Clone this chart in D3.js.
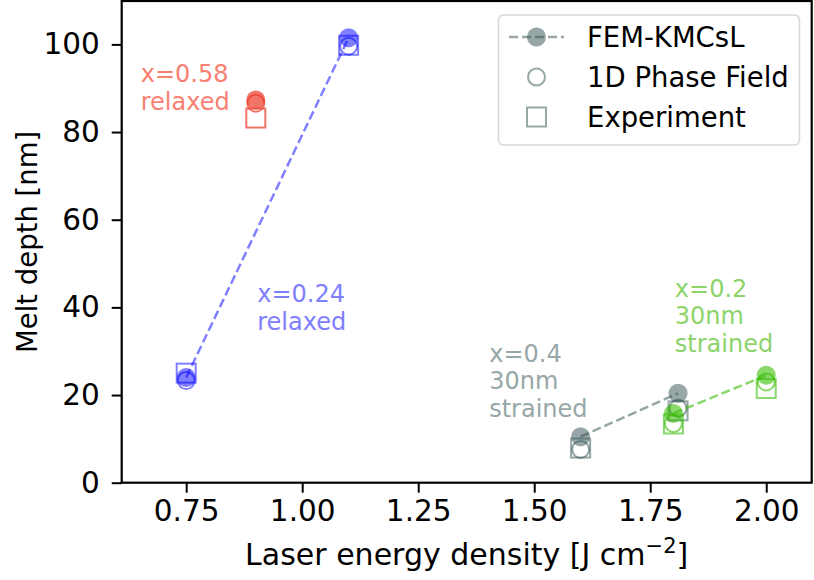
<!DOCTYPE html>
<html><head><meta charset="utf-8">
<script src="https://cdn.jsdelivr.net/npm/d3@7"></script>
<style>body{margin:0;background:#fff}svg{display:block}text{font-family:"DejaVu Sans",sans-serif}</style>
</head><body><svg id="c" width="814" height="580"></svg>
<script>
// ---- data ----
const xTicks = [0.75, 1.00, 1.25, 1.50, 1.75, 2.00];
const yTicks = [0, 20, 40, 60, 80, 100];
const groupNames = ["x=0.58 relaxed", "x=0.24 relaxed", "x=0.4 30nm strained", "x=0.2 30nm strained"];
const energyRed = [0.90], femRed = [87.3], pfRed = [86.6], expRed = [83.2];
const energyBlue = [0.75, 1.10], femBlue = [24.0, 101.5], pfBlue = [23.3, 99.6], expBlue = [25.0, 99.8];
const energyGray = [1.60, 1.81], femGray = [10.5, 20.4], pfGray = [7.6, 17.0], expGray = [7.9, 16.4];
const energyGreen = [1.80, 2.00], femGreen = [15.8, 24.5], pfGreen = [13.5, 23.0], expGreen = [13.4, 21.5];
const legendLabels = ["FEM-KMCsL", "1D Phase Field", "Experiment"];
// annotation anchors (data coords of first line baseline)
const annLines = [["x=0.58", "relaxed"], ["x=0.24", "relaxed"], ["x=0.4", "30nm", "strained"], ["x=0.2", "30nm", "strained"]];
const annX = [0.652, 0.903, 1.403, 1.803];
const annY = [91.4, 41.2, 27.6, 42.4];

const groups = [
  {e: energyRed, fem: femRed, pf: pfRed, ex: expRed, col: "#ec3f2f", op: 0.72, txt: "#f98072"},
  {e: energyBlue, fem: femBlue, pf: pfBlue, ex: expBlue, col: "#0000ff", op: 0.5, txt: "#8080ff"},
  {e: energyGray, fem: femGray, pf: pfGray, ex: expGray, col: "#2f4f4f", op: 0.5, txt: "#97a7a7"},
  {e: energyGreen, fem: femGreen, pf: pfGreen, ex: expGreen, col: "#33bb00", op: 0.58, txt: "#8cd46a"}
];

const svg = d3.select("#c");
const L = 121.7, R = 811.7, T = 1, B = 482.7;
const x = d3.scaleLinear().domain([0.611, 2.098]).range([L, R]);
const y = d3.scaleLinear().domain([0, 109.9]).range([B, T]);

const r = 9.5, sq = 19;
const plot = svg.append("g");

groups.forEach((g, gi) => {
  const gg = plot.append("g");
  gg.selectAll("rect").data(g.e.map((v, i) => [v, g.ex[i]])).join("rect")
    .attr("x", d => x(d[0]) - sq / 2).attr("y", d => y(d[1]) - sq / 2)
    .attr("width", sq).attr("height", sq)
    .attr("fill", "none").attr("stroke", g.col).attr("stroke-width", 2).attr("stroke-opacity", g.op);
  gg.selectAll("circle.pf").data(g.e.map((v, i) => [v, g.pf[i]])).join("circle").attr("class", "pf")
    .attr("cx", d => x(d[0])).attr("cy", d => y(d[1])).attr("r", r - 1)
    .attr("fill", "none").attr("stroke", g.col).attr("stroke-width", 2).attr("stroke-opacity", g.op);
  gg.selectAll("circle.fem").data(g.e.map((v, i) => [v, g.fem[i]])).join("circle").attr("class", "fem")
    .attr("cx", d => x(d[0])).attr("cy", d => y(d[1])).attr("r", r)
    .attr("fill", g.col).attr("fill-opacity", g.op);
  if (g.e.length > 1) {
    gg.append("path").datum(g.e.map((v, i) => [v, g.fem[i]]))
      .attr("d", d3.line().x(d => x(d[0])).y(d => y(d[1])))
      .attr("fill", "none").attr("stroke", g.col).attr("stroke-opacity", g.op)
      .attr("stroke-width", 2.5).attr("stroke-dasharray", "9,4");
  }
  const t = svg.append("text").attr("x", x(annX[gi])).attr("y", y(annY[gi]))
    .attr("fill", g.txt).attr("font-size", 24);
  annLines[gi].forEach((ln, k) => {
    t.append("tspan").attr("x", x(annX[gi])).attr("dy", k === 0 ? 0 : 27.5).text(ln);
  });
});

// axes
const fs = 29.5;
const xa = svg.append("g").attr("transform", `translate(0,${B})`)
  .call(d3.axisBottom(x).tickValues(xTicks).tickFormat(d3.format(".2f")).tickSize(10).tickPadding(7));
const ya = svg.append("g").attr("transform", `translate(${L},0)`)
  .call(d3.axisLeft(y).tickValues(yTicks).tickFormat(d3.format("d")).tickSize(10).tickPadding(12));
[xa, ya].forEach(a => {
  a.select(".domain").remove();
  a.selectAll("line").attr("stroke", "#000").attr("stroke-width", 2);
  a.selectAll("text").attr("font-size", fs).attr("font-family", "DejaVu Sans").attr("fill", "#000");
});
svg.append("rect").attr("x", L).attr("y", T).attr("width", R - L).attr("height", B - T)
  .attr("fill", "none").attr("stroke", "#000").attr("stroke-width", 2.2);

// labels
const xl = svg.append("text").attr("x", (L + R) / 2).attr("y", 565).attr("text-anchor", "middle")
  .attr("font-size", 30).attr("fill", "#000");
xl.append("tspan").text("Laser energy density [J cm");
xl.append("tspan").attr("font-size", 21).attr("dy", -12).text("\u22122");
xl.append("tspan").attr("dy", 12).text("]");
svg.append("text").attr("transform", `translate(37,${(T + B) / 2}) rotate(-90)`).attr("text-anchor", "middle")
  .attr("font-size", 27.5).attr("fill", "#000").text("Melt depth [nm]");

// legend
const lg = svg.append("g");
lg.append("rect").attr("x", 498.5).attr("y", 15).attr("width", 301).attr("height", 130).attr("rx", 5)
  .attr("fill", "#fff").attr("fill-opacity", 0.8).attr("stroke", "#d8d8d8").attr("stroke-width", 1.5);
const lc = "#2f4f4f", lop = 0.5, mx = 536.5;
const rowY = [37, 77, 117];
lg.append("line").attr("x1", 509).attr("x2", 564).attr("y1", rowY[0]).attr("y2", rowY[0])
  .attr("stroke", lc).attr("stroke-opacity", lop).attr("stroke-width", 2.5).attr("stroke-dasharray", "9,4");
lg.append("circle").attr("cx", mx).attr("cy", rowY[0]).attr("r", r).attr("fill", lc).attr("fill-opacity", lop);
lg.append("circle").attr("cx", mx).attr("cy", rowY[1]).attr("r", r - 1).attr("fill", "none")
  .attr("stroke", lc).attr("stroke-opacity", lop).attr("stroke-width", 2);
lg.append("rect").attr("x", mx - sq / 2).attr("y", rowY[2] - sq / 2).attr("width", sq).attr("height", sq)
  .attr("fill", "none").attr("stroke", lc).attr("stroke-opacity", lop).attr("stroke-width", 2);
legendLabels.forEach((s, i) => {
  lg.append("text").attr("x", 587).attr("y", rowY[i]).attr("dy", "0.36em").attr("font-size", 27.5)
    .attr("fill", "#000").text(s);
});
</script></body></html>
